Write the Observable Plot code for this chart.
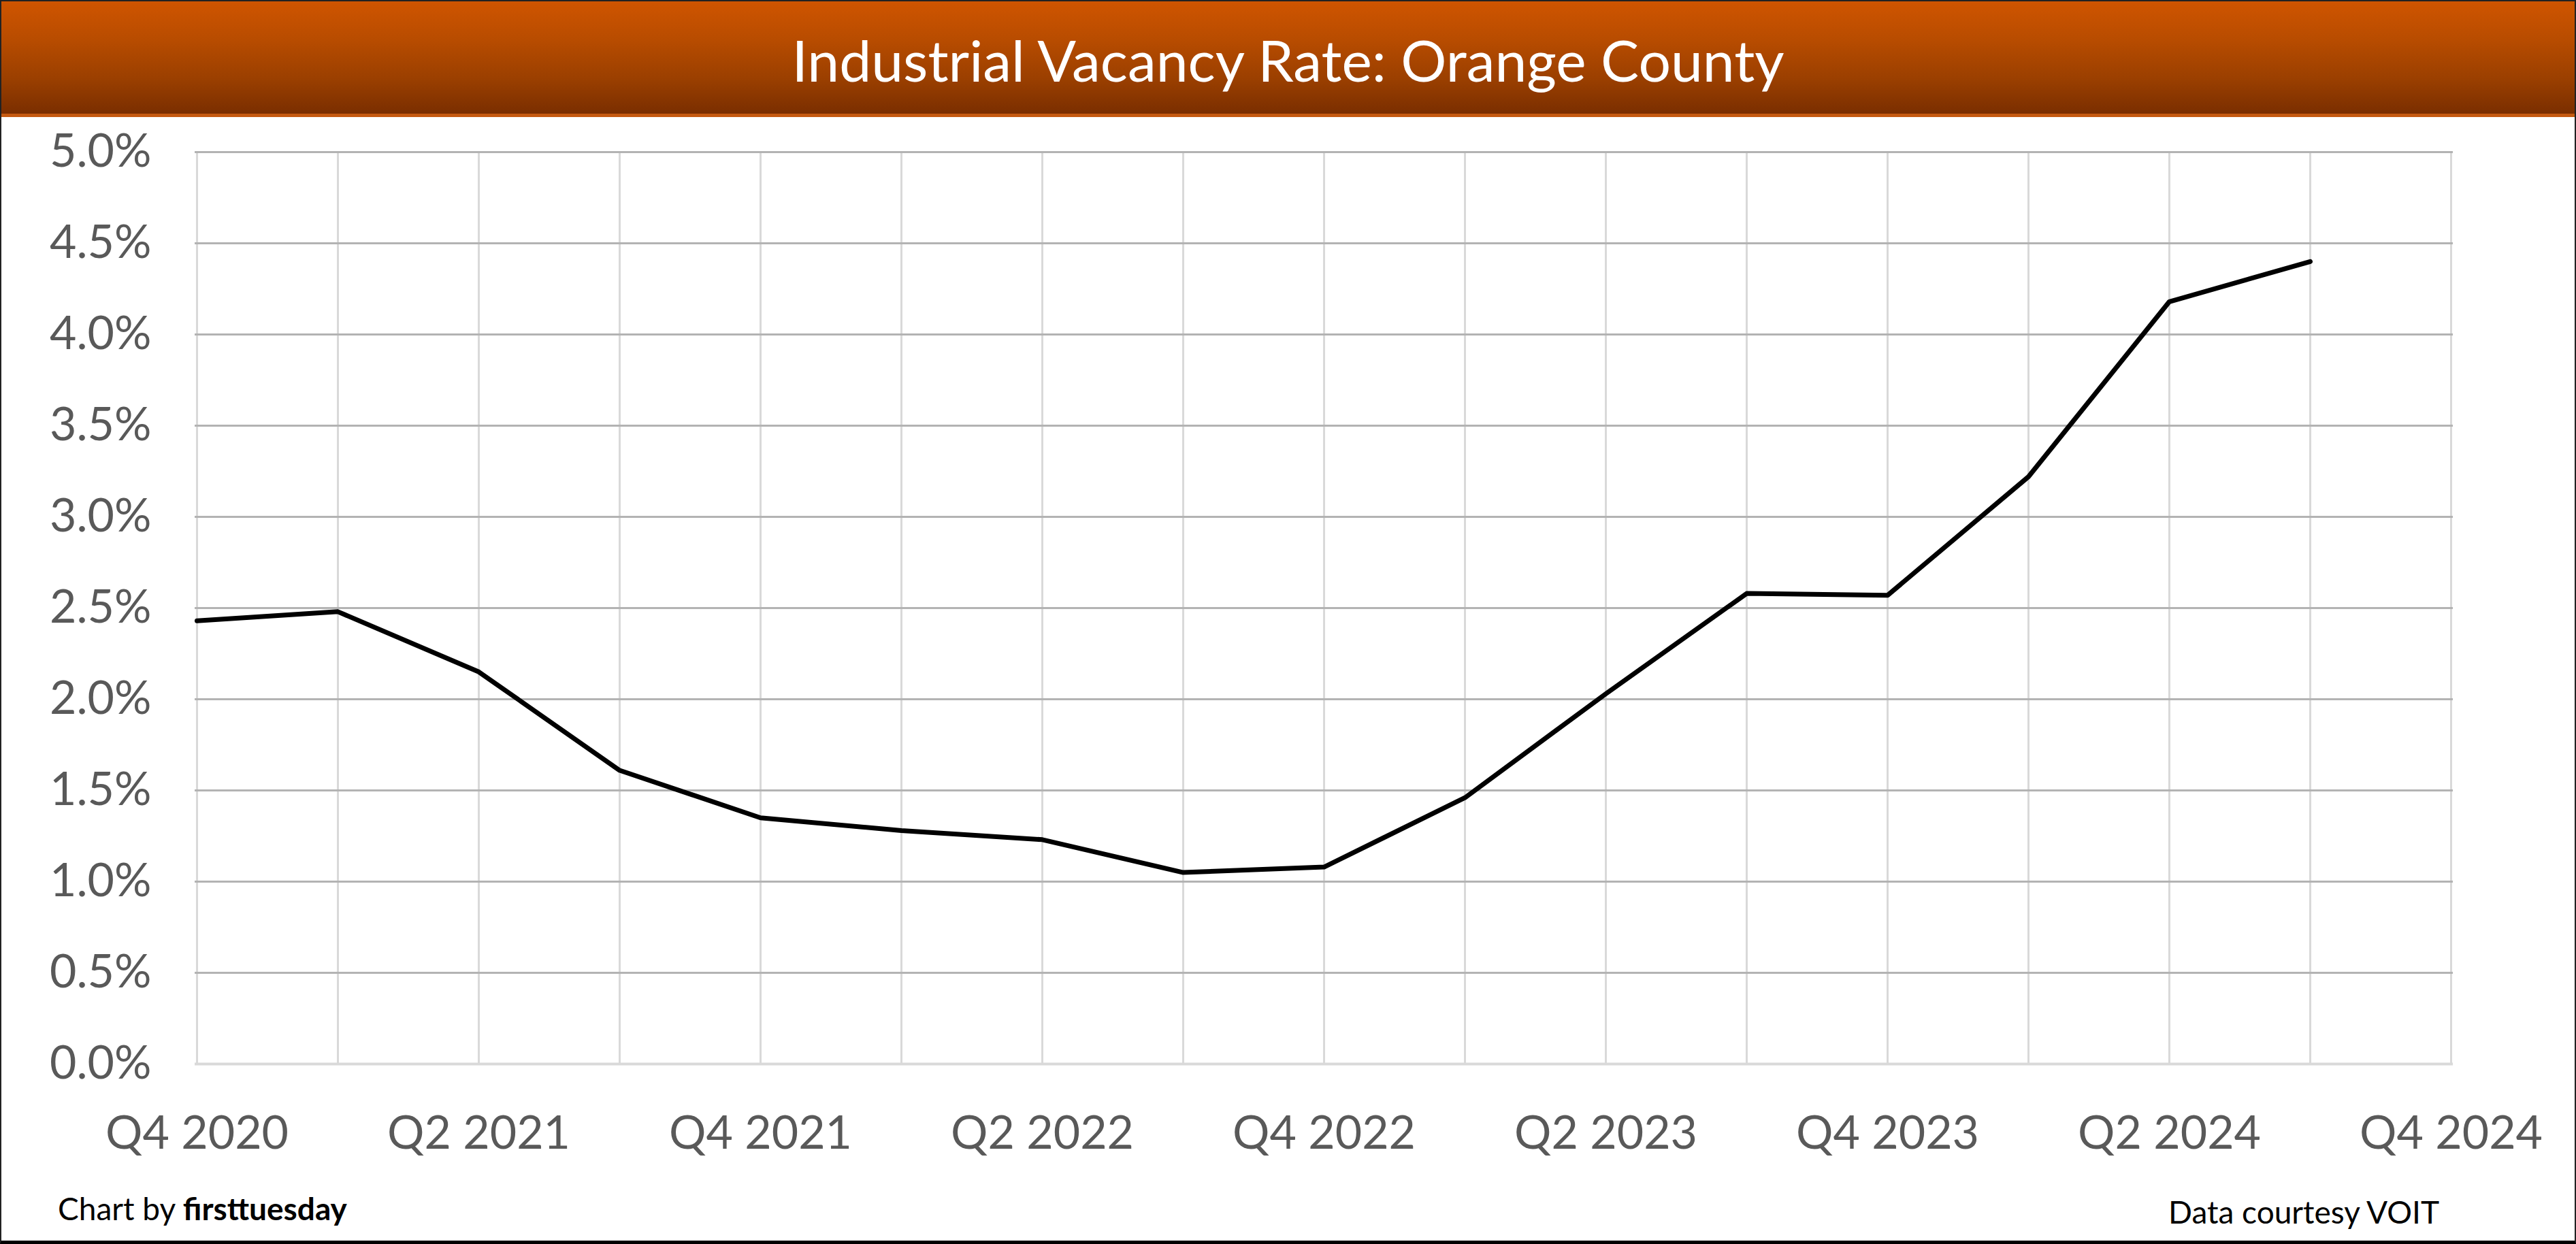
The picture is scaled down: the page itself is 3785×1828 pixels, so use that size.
<!DOCTYPE html>
<html>
<head>
<meta charset="utf-8">
<script src="https://cdn.jsdelivr.net/npm/d3@7"></script>
<script src="https://cdn.jsdelivr.net/npm/@observablehq/plot@0.6"></script>
<style>
  html, body { margin: 0; padding: 0; background: #fff; }
  #page { position: relative; width: 3785px; height: 1828px; overflow: hidden; background: #fff; font-family: Lato, "Noto Sans", sans-serif; }
  #titlebar { position: absolute; left: 0; top: 0; width: 3785px; height: 167px;
    background: linear-gradient(to bottom, #d05500 0%, #b84c00 35%, #9a3f00 70%, #7a2e00 100%);
    border-bottom: 5px solid #c55a11; }
  #titlebar .t { position: absolute; left: 0; right: 0; top: 0; height: 176px; line-height: 176px; text-align: center;
    color: #fff; font-size: 84px; font-family: Lato, sans-serif; }
  #chart { position: absolute; left: 0; top: 172px; }
  .foot { position: absolute; font-size: 46px; color: #000; font-family: Lato, sans-serif; white-space: nowrap; }
  #frame { position: absolute; left: 0; top: 0; width: 3785px; height: 1828px; box-sizing: border-box;
    border: 2px solid #222; border-bottom: 5px solid #000; pointer-events: none; }
</style>
</head>
<body>
<div id="page">
  <div id="titlebar"><div class="t">Industrial Vacancy Rate: Orange County</div></div>
  <div id="chart"></div>
  <div class="foot" style="left:85px; top:1748px;">Chart by <b>firsttuesday</b></div>
  <div class="foot" style="left:3186px; top:1753px;">Data courtesy VOIT</div>
  <div id="frame"></div>
</div>
<script>
const quarters = ["Q4 2020","Q1 2021","Q2 2021","Q3 2021","Q4 2021","Q1 2022","Q2 2022","Q3 2022","Q4 2022",
                  "Q1 2023","Q2 2023","Q3 2023","Q4 2023","Q1 2024","Q2 2024","Q3 2024","Q4 2024"];
const rates = [2.43, 2.48, 2.15, 1.61, 1.35, 1.28, 1.23, 1.05, 1.08, 1.46, 2.03, 2.58, 2.57, 3.22, 4.18, 4.40];
const xTickLabels = ["Q4 2020","Q2 2021","Q4 2021","Q2 2022","Q4 2022","Q2 2023","Q4 2023","Q2 2024","Q4 2024"];
const yTicks = [0, 0.5, 1.0, 1.5, 2.0, 2.5, 3.0, 3.5, 4.0, 4.5, 5.0];

const data = rates.map((r, i) => ({quarter: quarters[i], rate: r}));

const chart = Plot.plot({
  width: 3785,
  height: 1560,
  marginTop: 51,
  marginBottom: 169,
  marginLeft: 286,
  marginRight: 181,
  style: {fontFamily: "Lato, sans-serif", fontSize: "68px", color: "#595959", background: "transparent"},
  x: {type: "point", domain: quarters, padding: 0, label: null},
  y: {domain: [0, 5], label: null},
  marks: [
    Plot.ruleX(quarters, {stroke: "#d9d9d9", strokeWidth: 3}),
    Plot.ruleY(yTicks.filter(d => d > 0), {stroke: "#b3b3b3", strokeWidth: 3}),
    Plot.ruleY([0], {stroke: "#d9d9d9", strokeWidth: 4}),
    Plot.line(data, {x: "quarter", y: "rate", stroke: "#000", strokeWidth: 7}),
    Plot.axisX(xTickLabels, {tickSize: 0, tickPadding: 76, fill: "#595959", label: null}),
    Plot.axisY(yTicks, {tickSize: 0, tickPadding: 64, fill: "#595959", label: null, tickFormat: d => d.toFixed(1) + "%"})
  ]
});
document.getElementById("chart").appendChild(chart);
</script>
</body>
</html>
